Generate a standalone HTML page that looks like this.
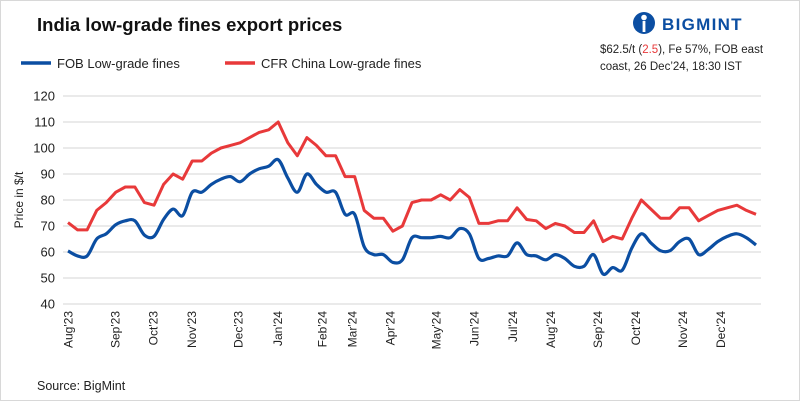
<!DOCTYPE html>
<html><head><meta charset="utf-8"><style>
body{margin:0;background:#fff;}
#wrap{position:relative;width:798px;height:399px;border:1px solid #d8d8d8;background:#fff;font-family:"Liberation Sans",sans-serif;overflow:hidden;}
</style></head><body>
<div id="wrap">
<svg id="svg" width="798" height="399" xmlns="http://www.w3.org/2000/svg">
<text x="36" y="30" font-size="18.5" font-weight="bold" fill="#111" font-family="Liberation Sans, sans-serif">India low-grade fines export prices</text>
<g><line x1="20" y1="62" x2="50" y2="62" stroke="#0b4ea2" stroke-width="3.5"/><text x="56" y="67" font-size="13" fill="#222">FOB Low-grade fines</text></g>
<g><line x1="224" y1="62" x2="254" y2="62" stroke="#e8393a" stroke-width="3.5"/><text x="260" y="67" font-size="13" fill="#222">CFR China Low-grade fines</text></g>
<g>
<circle cx="643" cy="22" r="11" fill="#0b4ea2"/><circle cx="643" cy="16.5" r="2.8" fill="#fff"/><rect x="641.6" y="20" width="2.8" height="11" fill="#fff"/>
<text x="661" y="29" font-size="17" font-weight="bold" fill="#0b4ea2" letter-spacing="1.3">BIGMINT</text></g>
<text x="599" y="52" font-size="11.5" fill="#222">$62.5/t (<tspan fill="#e8393a">2.5</tspan>), Fe 57%, FOB east</text>
<text x="599" y="69" font-size="11.5" fill="#222">coast, 26 Dec’24, 18:30 IST</text>
<text transform="translate(22,199) rotate(-90)" text-anchor="middle" font-size="12" fill="#222">Price in $/t</text>
<text x="36" y="389" font-size="12.5" fill="#222">Source: BigMint</text>
<g id="grid"></g><g id="xl"></g><g id="lines"></g>
</svg>
</div>
<script>
const yTicks=[40,50,60,70,80,90,100,110,120];
const months=["Aug'23","Sep'23","Oct'23","Nov'23","Dec'23","Jan'24","Feb'24","Mar'24","Apr'24","May'24","Jun'24","Jul'24","Aug'24","Sep'24","Oct'24","Nov'24","Dec'24"];
const monthIdx=[0,4.9,8.9,12.9,17.8,21.9,26.6,29.7,33.7,38.5,42.5,46.5,50.5,55.4,59.4,64.3,68.3];
const cfr=[71.3,68.5,68.5,76,79,83,85,85,79,78,86,90,88,95,95,98,100,101,102,104,106,107,110,102,97,104,101,97,97,89,89,76,73,73,68,70,
79,80,80,82,80,84,81,71,71,72,72,77,72.5,72,69,71,70,67.5,67.5,72,64,66,65,73,80,76.5,73,73,77,77,72,74,76,77,78,76,74.5];
const fob=[60.4,58.5,58.5,65,67,70.5,72,72,66.5,66,72.5,76.5,74,83,83,86,88,89,87,90,92,93,95.5,88.5,83,90,86,83,83,74.5,74.5,62,59,59,56,57,
65.5,65.5,65.5,66,65.5,69,67,57.5,57.5,58.5,58.5,63.5,59,58.5,57,59,57.5,54.5,54.5,59,51.5,54,53,61.5,67,63.5,60.5,60.5,64,65,59,61,64,66,67,65.5,62.7];
const X0=67,X1=755,Y0=303,Y1=95;
const n=cfr.length;
const xs=i=>X0+i*(X1-X0)/(n-1);
const ys=v=>Y0-(v-40)*(Y0-Y1)/80;
const NS="http://www.w3.org/2000/svg";
const grid=document.getElementById('grid'),xl=document.getElementById('xl'),lines=document.getElementById('lines');
yTicks.forEach(t=>{
 const l=document.createElementNS(NS,'line');
 l.setAttribute('x1',62);l.setAttribute('x2',760);l.setAttribute('y1',ys(t));l.setAttribute('y2',ys(t));
 l.setAttribute('stroke','#d4d4d4');l.setAttribute('stroke-width','1');
 
 
 grid.appendChild(l);
 const tx=document.createElementNS(NS,'text');
 tx.setAttribute('x',54);tx.setAttribute('y',ys(t)+4.5);tx.setAttribute('text-anchor','end');tx.setAttribute('font-size','13');tx.setAttribute('fill','#222');
 tx.textContent=t;
 
 
 grid.appendChild(tx);
});
months.forEach((m,k)=>{
 const x=xs(monthIdx[k]);
 const tx=document.createElementNS(NS,'text');
 tx.setAttribute('transform','translate('+(x+4.5)+',310) rotate(-90)');
 tx.setAttribute('text-anchor','end');tx.setAttribute('font-size','12');tx.setAttribute('fill','#222');
 tx.textContent=m;
 
 
 xl.appendChild(tx);
});
function straight(a){return a.map((v,i)=>(i?'L':'M')+xs(i).toFixed(1)+','+ys(v).toFixed(1)).join('');}
function smooth(a){
 const p=a.map((v,i)=>[xs(i),ys(v)]);let d='M'+p[0][0]+','+p[0][1];
 for(let i=0;i<p.length-1;i++){
  const p0=p[Math.max(0,i-1)],p1=p[i],p2=p[i+1],p3=p[Math.min(p.length-1,i+2)];
  const c1=[p1[0]+(p2[0]-p0[0])/6,p1[1]+(p2[1]-p0[1])/6],c2=[p2[0]-(p3[0]-p1[0])/6,p2[1]-(p3[1]-p1[1])/6];
  d+='C'+c1.join(',')+' '+c2.join(',')+' '+p2.join(',');
 }
 return d;
}
const pr=document.createElementNS(NS,'path');
pr.setAttribute('d',straight(cfr));pr.setAttribute('fill','none');pr.setAttribute('stroke','#e8393a');pr.setAttribute('stroke-width','3');pr.setAttribute('stroke-linejoin','round');


lines.appendChild(pr);
const pb=document.createElementNS(NS,'path');
pb.setAttribute('d',smooth(fob));pb.setAttribute('fill','none');pb.setAttribute('stroke','#0b4ea2');pb.setAttribute('stroke-width','3.2');pb.setAttribute('stroke-linejoin','round');


lines.appendChild(pb);
</script>
</body></html>
